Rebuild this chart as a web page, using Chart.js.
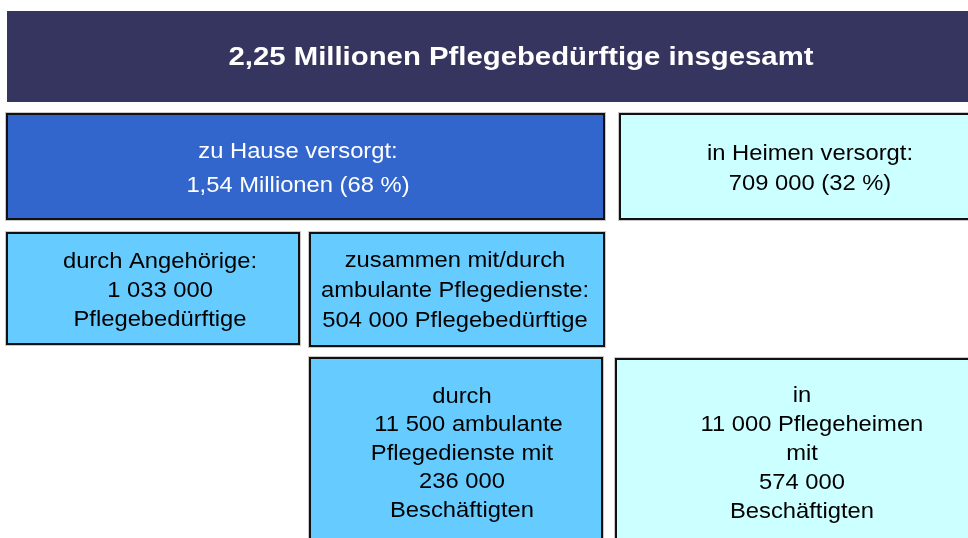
<!DOCTYPE html>
<html>
<head>
<meta charset="utf-8">
<script src="https://cdn.jsdelivr.net/npm/chart.js@4/dist/chart.umd.min.js"></script>
<style>
  html, body { margin: 0; padding: 0; background: #fff; }
  canvas { display: block; }
</style>
</head>
<body>
<canvas id="chart" width="968" height="538"></canvas>
<script>
// values shown in the diagram
const boxNames = ["total", "home", "homes", "relatives", "ambulant", "services", "nursingHomes"];
const persons = [2250000, 1540000, 709000, 1033000, 504000, null, null];
const boxLines = [
  ["2,25 Millionen Pflegebedürftige insgesamt"],
  ["zu Hause versorgt:", "1,54 Millionen (68 %)"],
  ["in Heimen versorgt:", "709 000 (32 %)"],
  ["durch Angehörige:", "1 033 000", "Pflegebedürftige"],
  ["zusammen mit/durch", "ambulante Pflegedienste:", "504 000 Pflegebedürftige"],
  ["durch", "  11 500 ambulante", "Pflegedienste mit", "236 000", "Beschäftigten"],
  ["in", "   11 000 Pflegeheimen", "mit", "574 000", "Beschäftigten"]
];

// layout of the boxes in page units (x 0..968, y 0..538)
const layout = [
  { x0: 7, x1: 980, y0: 11, y1: 102, fill: "#35355f", text: "#ffffff", tx: 521, ty: 58, lh: 0, bold: true, border: false },
  { x0: 7, x1: 604, y0: 114, y1: 219, fill: "#3366cc", text: "#ffffff", tx: 298, ty: 151.5, lh: 34 },
  { x0: 620, x1: 985, y0: 114, y1: 219, fill: "#ccffff", text: "#000000", tx: 810, ty: 154, lh: 30 },
  { x0: 7, x1: 299, y0: 233, y1: 344, fill: "#66ccff", text: "#000000", tx: 160, ty: 261.5, lh: 29 },
  { x0: 310, x1: 604, y0: 233, y1: 346, fill: "#66ccff", text: "#000000", tx: 455, ty: 260.5, lh: 30 },
  { x0: 310, x1: 602, y0: 358, y1: 550, fill: "#66ccff", text: "#000000", tx: 462, ty: 396.5, lh: 28.5 },
  { x0: 616, x1: 985, y0: 359, y1: 550, fill: "#ccffff", text: "#000000", tx: 802, ty: 395.5, lh: 29 }
];

const boxPlugin = {
  id: "boxes",
  afterDraw(chart) {
    const ctx = chart.ctx;
    const xs = chart.scales.x, ys = chart.scales.y;
    boxNames.forEach((name, i) => {
      const b = layout[i];
      const left = xs.getPixelForValue(b.x0), right = xs.getPixelForValue(b.x1);
      const top = ys.getPixelForValue(b.y0), bottom = ys.getPixelForValue(b.y1);
      ctx.save();
      ctx.fillStyle = b.fill;
      ctx.fillRect(left, top, right - left, bottom - top);
      if (b.border !== false) {
        ctx.strokeStyle = "#c8c8c8";
        ctx.lineWidth = 1;
        ctx.strokeRect(left - 1.5, top - 1.5, right - left + 3, bottom - top + 3);
        ctx.strokeStyle = "#111111";
        ctx.lineWidth = 2;
        ctx.strokeRect(left, top, right - left, bottom - top);
      }
      ctx.fillStyle = b.text;
      ctx.textAlign = "center";
      ctx.textBaseline = "middle";
      ctx.font = b.bold ? "bold 25.5px 'Liberation Sans', Arial, sans-serif"
                        : "22px 'Liberation Sans', Arial, sans-serif";
      const stretch = b.bold ? 1.15 : 1.08;
      boxLines[i].forEach((line, k) => {
        ctx.save();
        ctx.translate(xs.getPixelForValue(b.tx), ys.getPixelForValue(b.ty + k * b.lh));
        ctx.scale(stretch, 1);
        ctx.fillText(line, 0, 0);
        ctx.restore();
      });
      ctx.restore();
    });
  }
};

new Chart(document.getElementById("chart"), {
  type: "scatter",
  data: { datasets: [{ label: "Pflegebedürftige", data: [] }] },
  options: {
    responsive: false,
    animation: false,
    devicePixelRatio: 1,
    layout: { padding: 0 },
    plugins: { legend: { display: false }, tooltip: { enabled: false } },
    scales: {
      x: { type: "linear", min: 0, max: 968, display: false },
      y: { type: "linear", min: 0, max: 538, reverse: true, display: false }
    }
  },
  plugins: [boxPlugin]
});
</script>
</body>
</html>
